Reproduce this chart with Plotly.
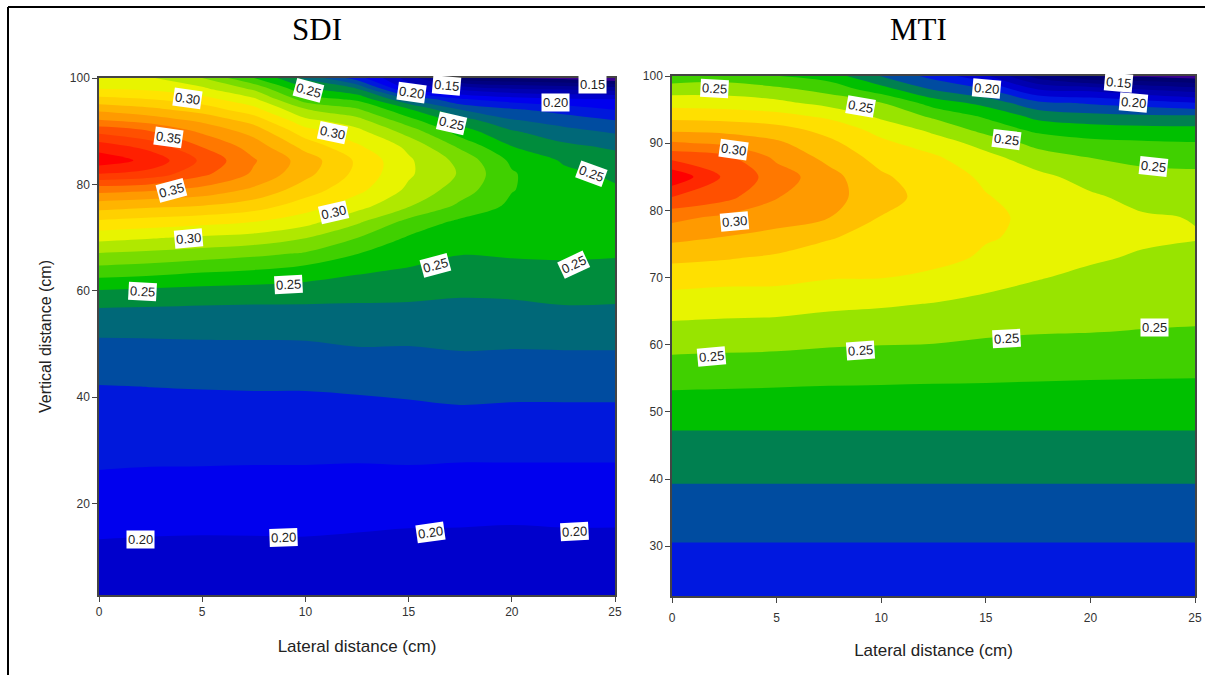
import plotly.graph_objects as go
import numpy as np

lateral = [0, 2.5, 5, 7.5, 10, 12.5, 15, 17.5, 20, 22.5, 25]

# ---------- SDI: one list per lateral position, top row first ----------
sdi_vertical = [100, 98, 96, 94, 92, 90, 87, 84.5, 82, 79, 76, 73, 70, 67, 64, 60, 57, 51.5, 42, 26, 13, 2.8]
sdi_x0 = [.292, .300, .313, .328, .341, .357, .376, .386, .37, .344, .3247, .3084, .2935, .2795, .2668, .2494, .2404, .2304, .2197, .2098, .1998, .192]
sdi_x2 = [.291, .298, .310, .323, .336, .350, .367, .377, .3662, .3415, .322, .306, .291, .2778, .265, .2481, .2401, .2305, .2201, .2094, .1994, .192]
sdi_x5 = [.280, .292, .304, .316, .328, .338, .350, .358, .3525, .337, .32, .3035, .2885, .2755, .2622, .2468, .2395, .2308, .2204, .2093, .1992, .192]
sdi_x7 = [.260, .278, .292, .304, .316, .326, .336, .341, .3385, .328, .315, .3003, .2865, .2725, .2605, .2459, .2391, .2308, .2206, .2091, .1993, .192]
sdi_x10 = [.238, .2515, .265, .281, .293, .304, .317, .3255, .323, .315, .305, .294, .2805, .269, .2567, .2452, .239, .231, .2206, .2091, .1994, .192]
sdi_x12 = [.215, .24, .258, .272, .284, .293, .302, .3085, .3075, .303, .294, .282, .2703, .2603, .252, .2441, .2388, .2324, .2212, .2088, .1988, .192]
sdi_x15 = [.185, .198, .2303, .252, .264, .2756, .288, .2915, .2915, .288, .281, .267, .259, .255, .2492, .2428, .2388, .232, .222, .209, .198, .191]
sdi_x17 = [.155, .187, .211, .2303, .2452, .2548, .2686, .277, .279, .275, .268, .258, .2546, .2504, .2465, .2414, .2382, .2329, .2232, .2084, .198, .191]
sdi_x20 = [.15, .18, .205, .222, .231, .241, .2505, .258, .261, .2605, .258, .2555, .253, .251, .2477, .2418, .2385, .2326, .2226, .2085, .1975, .191]
sdi_x22 = [.147, .178, .202, .216, .226, .233, .243, .249, .252, .254, .255, .2545, .2535, .2515, .248, .2433, .2396, .2329, .2226, .2085, .198, .191]
sdi_x25 = [.14, .175, .2003, .21, .2203, .2285, .2385, .2445, .2485, .251, .2525, .2535, .253, .251, .2475, .2425, .2395, .2329, .2226, .2085, .198, .191]

# ---------- MTI ----------
mti_vertical = [100, 98, 96, 94, 92, 90, 88, 85, 82, 79, 76, 73, 70, 66, 62, 58, 53.3, 47.3, 39.4, 30.8, 22.6]
mti_x0 = [.243, .2555, .266, .277, .288, .3015, .316, .338, .32, .303, .2928, .2826, .274, .2655, .2566, .249, .2401, .2301, .2201, .2102, .203]
mti_x2 = [.245, .2558, .265, .276, .287, .298, .3125, .3185, .3135, .298, .2897, .281, .273, .2643, .2561, .2485, .2398, .2301, .2201, .2102, .203]
mti_x5 = [.2403, .2525, .2625, .2735, .2838, .292, .2975, .3055, .3005, .294, .287, .2785, .2728, .2638, .2556, .2481, .2394, .2301, .2201, .2102, .203]
mti_x7 = [.2355, .2467, .2565, .268, .2768, .2824, .2868, .2935, .2945, .2903, .2808, .2756, .2706, .262, .2545, .247, .239, .2301, .2201, .2102, .203]
mti_x10 = [.2195, .2345, .2503, .258, .2665, .2723, .2762, .2815, .2825, .2797, .2765, .2732, .2703, .261, .2536, .2467, .2388, .2301, .2201, .2102, .203]
mti_x12 = [.2065, .2195, .2355, .2482, .2577, .265, .2712, .2745, .2775, .2775, .276, .2735, .2675, .2595, .2535, .246, .2386, .2301, .2201, .2102, .203]
mti_x15 = [.192, .2103, .2265, .2385, .2465, .2565, .2625, .2685, .2705, .2715, .2708, .2685, .2635, .2575, .2515, .2455, .2385, .2301, .2201, .2102, .203]
mti_x17 = [.165, .19, .2125, .2268, .2375, .2468, .2543, .2625, .2665, .2683, .268, .2655, .2605, .2555, .2506, .245, .2382, .2301, .2201, .2102, .203]
mti_x20 = [.15, .187, .2085, .2235, .2345, .2427, .2495, .2562, .2615, .2645, .2655, .2612, .258, .2541, .2503, .2445, .238, .2301, .2201, .2102, .203]
mti_x22 = [.148, .18, .205, .222, .2335, .2415, .2472, .2528, .257, .261, .2615, .259, .2565, .2532, .2497, .2442, .2378, .2301, .2201, .2102, .203]
mti_x25 = [.144, .175, .2003, .2215, .233, .2406, .2465, .2522, .2558, .2596, .2605, .2578, .2556, .2526, .2494, .244, .2377, .2301, .2201, .2102, .203]

# band colours, lowest band first
sdi_colors = ["#3a0090", "#000070", "#000080", "#000098", "#0000b0", "#0000cc", "#0000ee", "#0018dc",
              "#004ca0", "#006878", "#008c3c", "#00c000", "#40d000", "#78dc00", "#b0e800", "#e8f400",
              "#ffe400", "#ffd000", "#ffb400", "#ff9a00", "#ff7800", "#ff5000", "#ff3c00", "#ff2000", "#ff0000"]
mti_colors = ["#3a0090", "#000070", "#000080", "#000098", "#0000b0", "#0000d0", "#0018e0", "#004ca0",
              "#008050", "#00c000", "#40d000", "#98e400", "#e8f400", "#ffe000", "#ffc000", "#ff9a00",
              "#ff7800", "#ff5000", "#ff2800", "#ff0000"]

# contour labels: text, lateral, vertical, angle
sdi_labels = [("0.30", 4.31, 96.2, 8), ("0.35", 3.39, 88.9, 8), ("0.35", 3.49, 78.8, -15), ("0.30", 4.36, 69.9, -5),
              ("0.30", 11.29, 89.8, 12), ("0.30", 11.34, 74.8, -13), ("0.25", 10.17, 97.7, 15), ("0.20", 15.12, 97.2, 8),
              ("0.15", 16.86, 98.5, 5), ("0.25", 17.1, 91.4, 13), ("0.25", 23.84, 82.1, 20), ("0.20", 22.14, 95.3, 0),
              ("0.15", 23.93, 98.7, 0), ("0.25", 2.13, 59.8, 3), ("0.25", 9.2, 61.1, -3), ("0.25", 16.28, 64.7, -15),
              ("0.25", 23.01, 65.0, -25), ("0.20", 1.99, 13.2, 0), ("0.20", 8.96, 13.7, -2), ("0.20", 16.04, 14.5, -8),
              ("0.20", 23.06, 14.7, -3)]
mti_labels = [("0.25", 2.01, 98.2, 3), ("0.25", 9.0, 95.4, 10), ("0.20", 15.02, 98.1, 5), ("0.25", 15.98, 90.6, 7),
              ("0.15", 21.34, 99.0, 5), ("0.20", 22.06, 96.1, 5), ("0.25", 23.01, 86.6, 6), ("0.30", 2.92, 89.0, 8),
              ("0.30", 2.97, 78.3, -5), ("0.25", 1.91, 58.2, -5), ("0.25", 9.0, 59.1, -4), ("0.25", 15.98, 61.0, -3),
              ("0.25", 23.06, 62.5, 0)]


def grid(cols):
    return np.array(cols).T[::-1]


def scale(colors):
    n = len(colors) - 1
    return [[i / n, c] for i, c in enumerate(colors)]


W, H = 1205, 675
fig = go.Figure()
fig.add_trace(go.Contour(
    x=lateral, y=sdi_vertical[::-1],
    z=grid([sdi_x0, sdi_x2, sdi_x5, sdi_x7, sdi_x10, sdi_x12, sdi_x15, sdi_x17, sdi_x20, sdi_x22, sdi_x25]),
    autocontour=False, contours=dict(start=.15, end=.3805, size=.01, coloring="fill", showlines=False),
    colorscale=scale(sdi_colors), showscale=False, line=dict(width=0, smoothing=1.0), xaxis="x", yaxis="y"))
fig.add_trace(go.Contour(
    x=lateral, y=mti_vertical[::-1],
    z=grid([mti_x0, mti_x2, mti_x5, mti_x7, mti_x10, mti_x12, mti_x15, mti_x17, mti_x20, mti_x22, mti_x25]),
    autocontour=False, contours=dict(start=.15, end=.3305, size=.01, coloring="fill", showlines=False),
    colorscale=scale(mti_colors), showscale=False, line=dict(width=0, smoothing=1.0), xaxis="x2", yaxis="y2"))

ann = []
for labels, xr, yr in ((sdi_labels, "x", "y"), (mti_labels, "x2", "y2")):
    for t, x, y, a in labels:
        ann.append(dict(text=t, x=x, y=y, xref=xr, yref=yr, showarrow=False, textangle=a, bgcolor="white",
                        borderpad=1, font=dict(family="Liberation Sans", size=13, color="#222")))
for t, px in (("SDI", 317), ("MTI", 918)):
    ann.append(dict(text=t, x=px / W, y=1 - 29 / H, xref="paper", yref="paper", showarrow=False,
                    xanchor="center", yanchor="middle",
                    font=dict(family="Liberation Serif", size=31, color="black")))

axis = dict(showgrid=False, zeroline=False, showline=True, mirror=True, linecolor="#444", linewidth=1.5,
            ticks="outside", ticklen=5, tickcolor="#444", layer="above traces",
            tickfont=dict(family="Liberation Sans", size=12, color="#333"))
xtitlefont = dict(family="Liberation Sans", size=17, color="#222")
ytitlefont = dict(family="Liberation Sans", size=16, color="#222")

fig.update_layout(
    width=W, height=H, margin=dict(l=0, r=0, t=0, b=0, autoexpand=False), paper_bgcolor="white", plot_bgcolor="white",
    showlegend=False, annotations=ann,
    xaxis=dict(axis, domain=[99 / W, 615 / W], range=[0, 25], dtick=5,
               title=dict(text="Lateral distance (cm)", font=xtitlefont, standoff=22)),
    yaxis=dict(axis, domain=[1 - 595 / H, 1 - 78 / H], range=[2.8, 100], tick0=0, dtick=20,
               title=dict(text="Vertical distance (cm)", font=ytitlefont, standoff=14)),
    xaxis2=dict(axis, domain=[672 / W, 1195 / W], range=[0, 25], dtick=5, anchor="y2", ticklabelstandoff=5,
                title=dict(text="Lateral distance (cm)", font=xtitlefont, standoff=20)),
    yaxis2=dict(axis, domain=[1 - 596 / H, 1 - 76 / H], range=[22.6, 100], tick0=0, dtick=10, anchor="x2"),
    shapes=[
        dict(type="line", xref="paper", yref="paper", x0=8 / W, x1=8 / W, y0=0, y1=1 - 7 / H,
             line=dict(color="black", width=2)),
        dict(type="line", xref="paper", yref="paper", x0=8 / W, x1=1, y0=1 - 7 / H, y1=1 - 7 / H,
             line=dict(color="black", width=2)),
    ],
)
fig.write_html("out.html", config=dict(displayModeBar=False), post_script="document.body.style.margin='0';")
